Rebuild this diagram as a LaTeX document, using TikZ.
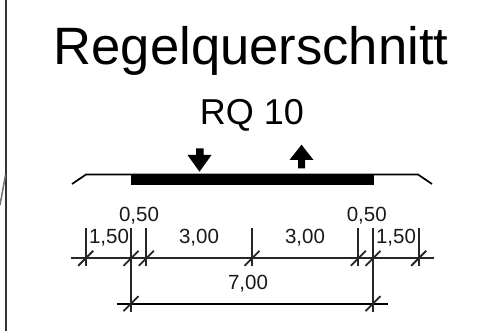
\documentclass[tikz,border=0pt]{standalone}
\usepackage{fontspec}
\setmainfont{Liberation Sans}
\usetikzlibrary{calc}
\tikzset{
  dimline/.style={line width=1.8pt,black!85},
  dimheavy/.style={line width=2pt,black},
  roadline/.style={line width=1.7pt,black},
  lbl/.style={anchor=base,inner sep=0pt,font=\fontsize{20.5}{24}\selectfont,text=black!90},
  arrowshape/.style={fill=black,draw=none}
}
\begin{document}
\begin{tikzpicture}[x=1pt,y=-1pt]
\useasboundingbox (0,0) rectangle (492,331);
\fill[white] (0,0) rectangle (492,331);
% frame line and fragment at the left
\draw[line width=2pt,black!80] (6,0) -- (6,331);
\draw[line width=1.5pt,black!55] (5.5,175) -- (0,205);
% titles
\node[anchor=base,inner sep=0pt,font=\fontsize{52.6}{60}\selectfont] (title) at (251,64.3) {Regelquerschnitt};
\node[anchor=base,inner sep=0pt,font=\fontsize{36}{42}\selectfont] (rq) at (252,124.5) {RQ 10};
% road
\draw[roadline] (72,184) -- (86,174.5) -- (418,174.5) -- (432,184);
\fill[black] (130.7,174.5) rectangle (374,184.8);
% arrows
\fill[arrowshape] (196,148.3) -- (203.5,148.3) -- (203.5,155) -- (211.5,155) -- (199.5,171.7) -- (187.5,155) -- (196,155) -- cycle;
\fill[arrowshape] (298,168.3) -- (305,168.3) -- (305,160) -- (313.5,160) -- (301.5,144.7) -- (289.5,160) -- (298,160) -- cycle;
% dimension lines
\coordinate (l1s) at (71,258.3);
\coordinate (l1e) at (434,258.3);
\draw[dimline] (l1s) -- (l1e);
\coordinate (l2s) at (116.7,303.7);
\coordinate (l2e) at (388,303.7);
\draw[dimheavy] (l2s) -- (l2e);
\foreach \n/\x in {a/85.7,b/131,c/146.3,d/252,e/358.3,f/373,g/418.7}{
  \coordinate (top\n) at (\x,228.3);
  \coordinate (mid\n) at (\x,258.3);
  \coordinate (low\n) at (\x,266);
  \draw[dimline] (top\n) -- (low\n);
  \draw[dimline] ($(mid\n)+(-7.5,7.5)$) -- ($(mid\n)+(7.5,-7.5)$);
}
\foreach \n in {b,f}{
  \coordinate (bot\n) at ($(mid\n)+(0,53.4)$);
  \coordinate (cross\n) at ($(mid\n)+(0,45.4)$);
  \draw[dimline] (mid\n) -- (bot\n);
  \draw[dimline] ($(cross\n)+(-7.5,7.5)$) -- ($(cross\n)+(7.5,-7.5)$);
}
% labels
\node[lbl] (z1) at (139,221.7) {0,50};
\node[lbl] (z2) at (366.7,221.7) {0,50};
\node[lbl] (o1) at (109,243) {1,50};
\node[lbl] (o2) at (396,243) {1,50};
\node[lbl] (t1) at (199,243) {3,00};
\node[lbl] (t2) at (305,243) {3,00};
\node[lbl] (s) at (248,289) {7,00};
\end{tikzpicture}
\end{document}
